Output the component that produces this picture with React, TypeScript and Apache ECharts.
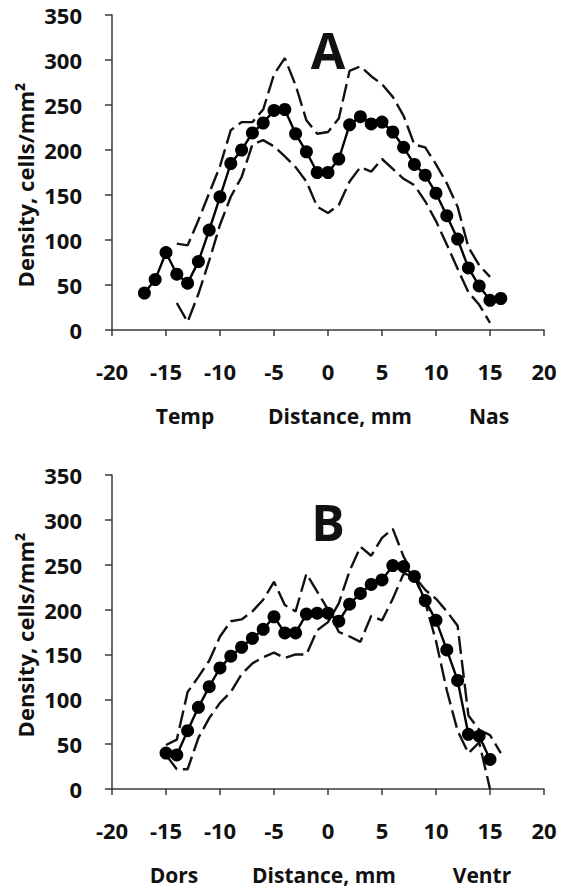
import React, { useEffect, useRef } from "react";
import * as echarts from "echarts";

// Panel A (Temp – Nas)
const xMeanA = [-17, -16, -15, -14, -13, -12, -11, -10, -9, -8, -7, -6, -5, -4, -3, -2, -1, 0, 1, 2, 3, 4, 5, 6, 7, 8, 9, 10, 11, 12, 13, 14, 15, 16];
const meanA = [41, 56, 86, 62, 52, 76, 111, 148, 185, 200, 219, 230, 244, 245, 218, 198, 175, 175, 190, 228, 237, 229, 231, 220, 203, 184, 172, 152, 127, 101, 69, 49, 33, 35];
const xBandA = [-14, -13, -12, -11, -10, -9, -8, -7, -6, -5, -4, -3, -2, -1, 0, 1, 2, 3, 4, 5, 6, 7, 8, 9, 10, 11, 12, 13, 14, 15];
const upperA = [96, 94, 122, 152, 182, 222, 231, 231, 245, 284, 302, 272, 233, 218, 220, 235, 288, 293, 282, 273, 259, 238, 206, 203, 184, 163, 137, 92, 72, 59];
const lowerA = [30, 9, 40, 77, 117, 148, 170, 206, 211, 204, 193, 181, 165, 137, 130, 139, 165, 181, 176, 190, 179, 168, 161, 143, 121, 95, 68, 42, 28, 8];

// Panel B (Dors – Ventr)
const xMeanB = [-15, -14, -13, -12, -11, -10, -9, -8, -7, -6, -5, -4, -3, -2, -1, 0, 1, 2, 3, 4, 5, 6, 7, 8, 9, 10, 11, 12, 13, 14, 15];
const meanB = [40, 38, 65, 91, 114, 135, 148, 158, 168, 178, 192, 174, 174, 195, 196, 196, 187, 206, 218, 228, 233, 249, 248, 237, 210, 188, 155, 121, 61, 59, 33];
const xLine1B = [-15, -14, -13, -12, -11, -10, -9, -8, -7, -6, -5, -4, -3, -2, -1, 0, 1, 2, 3, 4, 5, 6, 7, 8, 9, 10, 11, 12, 13, 14, 15, 16];
const line1B = [49, 55, 108, 125, 143, 170, 187, 189, 198, 211, 231, 205, 198, 240, 220, 200, 175, 170, 164, 193, 188, 212, 240, 237, 222, 212, 198, 182, 82, 66, 60, 40];
const xLine2B = [-15, -14, -13, -12, -11, -10, -9, -8, -7, -6, -5, -4, -3, -2, -1, 0, 1, 2, 3, 4, 5, 6, 7, 8, 9, 10, 11, 12, 13, 14, 15];
const line2B = [38, 22, 22, 57, 79, 96, 108, 128, 140, 147, 152, 146, 150, 150, 177, 186, 207, 243, 270, 260, 280, 290, 259, 237, 208, 165, 110, 65, 40, 52, 0];

const yMin = 0;
const yMax = 350;
const yStep = 50;
const xMin = -20;
const xMax = 20;
const xStep = 5;

const yTitle = "Density, cells/mm²";
const xTitle = "Distance, mm";
const sideLabelsA = ["Temp", "Nas"];
const sideLabelsB = ["Dors", "Ventr"];
const panelLetters = ["A", "B"];

const FONT = "'Open Sans', 'Liberation Sans', sans-serif";
const AXIS_COLOR = "#3a3a3a";

const pairs = (xs: number[], ys: number[]) => xs.map((x, i) => [x, ys[i]]);

export default function App() {
  const ref = useRef<HTMLDivElement>(null);

  useEffect(() => {
    if (!ref.current) return;
    const chart = echarts.init(ref.current, null, { renderer: "svg" });

    const grids = [
      { left: 112, top: 15, width: 432, height: 315 },
      { left: 112, top: 475, width: 432, height: 314 },
    ];

    const xAxis = grids.map((_, i) => ({
      type: "value",
      gridIndex: i,
      min: xMin,
      max: xMax,
      interval: xStep,
      splitLine: { show: false },
      axisLine: { onZero: false, lineStyle: { color: AXIS_COLOR, width: 1.5 } },
      axisTick: { show: true, length: 6, lineStyle: { color: AXIS_COLOR, width: 1.5 } },
      axisLabel: { margin: 30, color: "#111", fontFamily: FONT, fontWeight: "bold", fontSize: 22 },
    }));

    const yAxis = grids.map((_, i) => ({
      type: "value",
      gridIndex: i,
      min: yMin,
      max: yMax,
      interval: yStep,
      splitLine: { show: false },
      axisLine: { show: true, onZero: false, lineStyle: { color: AXIS_COLOR, width: 1.5 } },
      axisTick: { show: true, length: 7, lineStyle: { color: AXIS_COLOR, width: 1.5 } },
      axisLabel: { margin: 30, color: "#111", fontFamily: FONT, fontWeight: "bold", fontSize: 22 },
    }));

    const dashed = (name: string, data: number[][], idx: number) => ({
      name,
      type: "line",
      xAxisIndex: idx,
      yAxisIndex: idx,
      data,
      showSymbol: false,
      symbol: "none",
      lineStyle: { color: "#111", width: 2.4, type: [18, 6] },
      z: 2,
    });

    const meanSeries = (name: string, data: number[][], idx: number) => ({
      name,
      type: "line",
      xAxisIndex: idx,
      yAxisIndex: idx,
      data,
      symbol: "circle",
      symbolSize: 13,
      itemStyle: { color: "#000" },
      lineStyle: { color: "#000", width: 2.4 },
      z: 3,
    });

    const textStyle = (size: number) => ({
      fill: "#111",
      font: `bold ${size}px ${FONT}`,
      textAlign: "center",
      textVerticalAlign: "middle",
    });

    chart.setOption({
      animation: false,
      backgroundColor: "#fff",
      grid: grids,
      xAxis,
      yAxis,
      series: [
        dashed("upperA", pairs(xBandA, upperA), 0),
        dashed("lowerA", pairs(xBandA, lowerA), 0),
        meanSeries("meanA", pairs(xMeanA, meanA), 0),
        dashed("line1B", pairs(xLine1B, line1B), 1),
        dashed("line2B", pairs(xLine2B, line2B), 1),
        meanSeries("meanB", pairs(xMeanB, meanB), 1),
      ],
      graphic: [
        { type: "text", x: 328, y: 50, style: { text: panelLetters[0], ...textStyle(50) } },
        { type: "text", x: 328, y: 522, style: { text: panelLetters[1], ...textStyle(50) } },
        { type: "text", x: 25, y: 185, rotation: Math.PI / 2, style: { text: yTitle, ...textStyle(22) } },
        { type: "text", x: 25, y: 635, rotation: Math.PI / 2, style: { text: yTitle, ...textStyle(22) } },
        { type: "text", x: 185, y: 416, style: { text: sideLabelsA[0], ...textStyle(21) } },
        { type: "text", x: 340, y: 416, style: { text: xTitle, ...textStyle(21) } },
        { type: "text", x: 489, y: 416, style: { text: sideLabelsA[1], ...textStyle(21) } },
        { type: "text", x: 174, y: 875, style: { text: sideLabelsB[0], ...textStyle(21) } },
        { type: "text", x: 324, y: 875, style: { text: xTitle, ...textStyle(21) } },
        { type: "text", x: 482, y: 875, style: { text: sideLabelsB[1], ...textStyle(21) } },
      ],
    });

    return () => chart.dispose();
  }, []);

  return (
    <div
      ref={ref}
      style={{ position: "fixed", left: 0, top: 0, width: 566, height: 891, background: "#fff" }}
    />
  );
}
